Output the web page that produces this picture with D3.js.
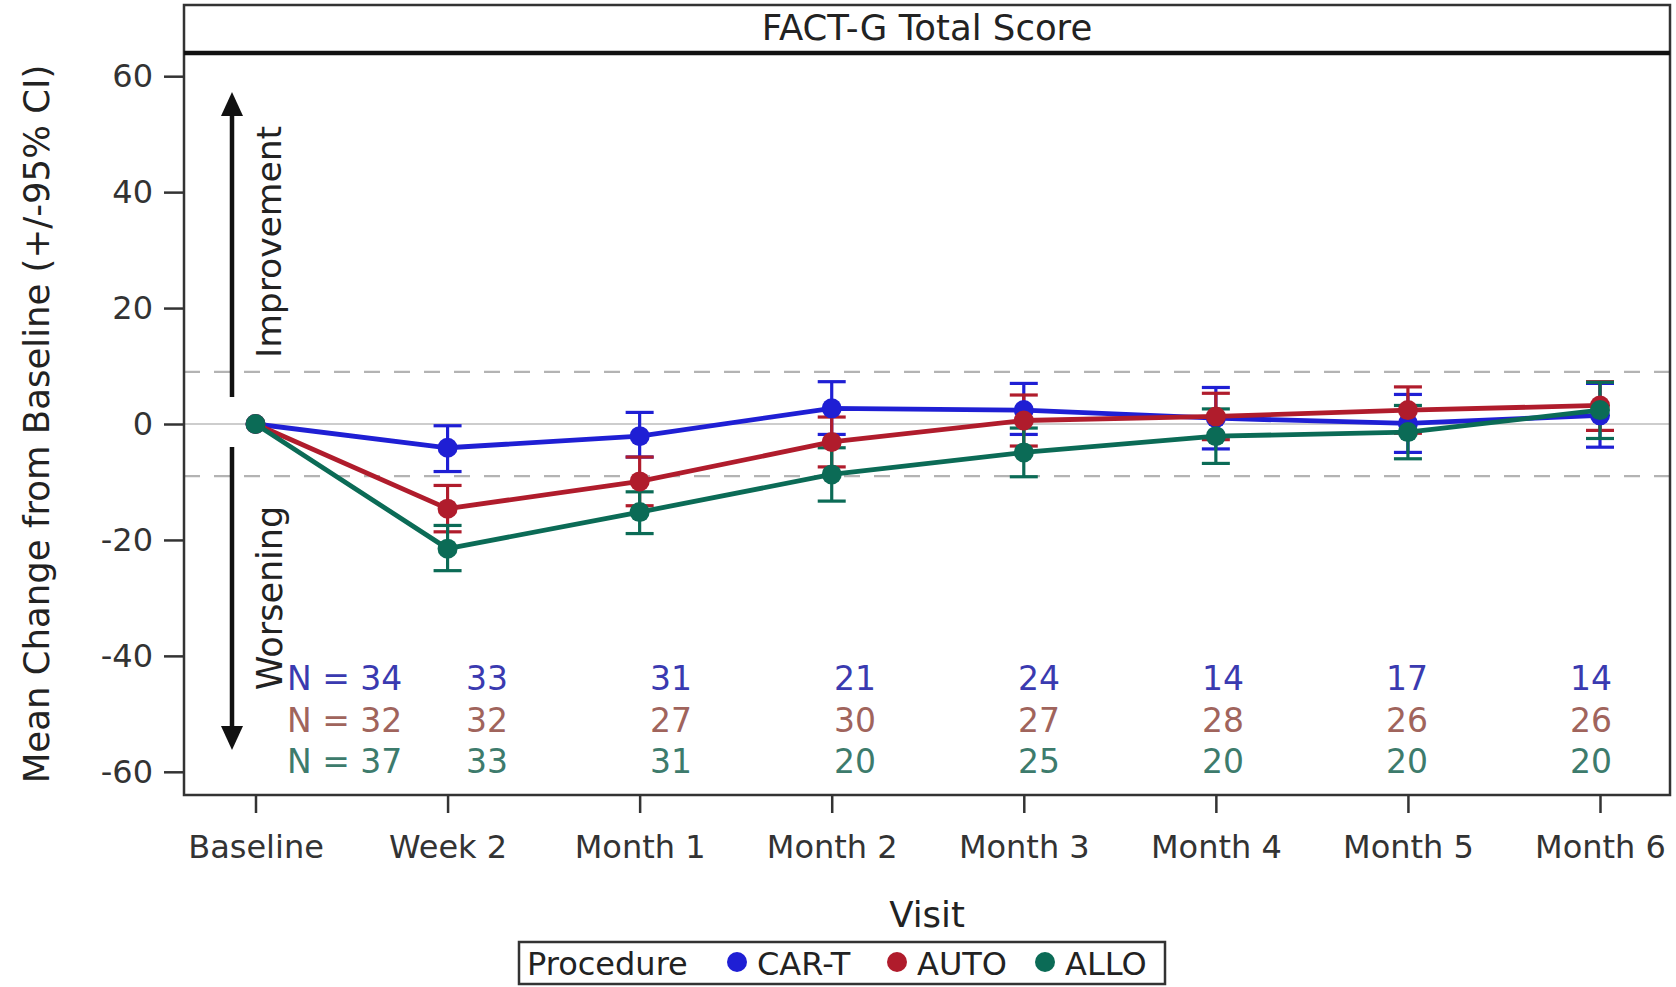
<!DOCTYPE html>
<html>
<head>
<meta charset="utf-8">
<script src="https://cdn.jsdelivr.net/npm/d3@7"></script>
<style>
  html, body { margin: 0; padding: 0; background: #fff; }
  svg { display: block; font-family: "DejaVu Sans", sans-serif; }
</style>
</head>
<body>
<svg id="chart" width="1676" height="987"></svg>
<script>
// ---------------- data ----------------
const visits = ["Baseline", "Week 2", "Month 1", "Month 2", "Month 3", "Month 4", "Month 5", "Month 6"];
const yTicks = [-60, -40, -20, 0, 20, 40, 60];
const refLines = [9, -9];

const seriesNames = ["CAR-T", "AUTO", "ALLO"];
const seriesColors = ["#1f1fd4", "#b01c2c", "#0b6b56"];
const nColors = ["#3a3ab0", "#a0645c", "#3d7b6c"];

const cartMean  = [0, -4.1, -2.1, 2.7, 2.4, 1.0, 0.1, 1.5];
const cartLower = [null, -8.2, -5.7, -1.8, -1.8, -4.3, -4.9, -4.0];
const cartUpper = [null, -0.3, 2.0, 7.3, 7.0, 6.3, 5.1, 7.0];

const autoMean  = [0, -14.6, -9.9, -3.1, 0.6, 1.3, 2.4, 3.2];
const autoLower = [null, -18.6, -14.1, -7.4, -3.8, -2.7, -1.6, -1.1];
const autoUpper = [null, -10.6, -5.7, 1.2, 5.0, 5.3, 6.4, 7.3];

const alloMean  = [0, -21.5, -15.2, -8.7, -4.9, -2.1, -1.4, 2.4];
const alloLower = [null, -25.3, -18.9, -13.3, -9.1, -6.8, -6.0, -2.5];
const alloUpper = [null, -17.5, -11.7, -4.1, -0.7, 2.6, 3.2, 7.2];

const nCart = [34, 33, 31, 21, 24, 14, 17, 14];
const nAuto = [32, 32, 27, 30, 27, 28, 26, 26];
const nAllo = [37, 33, 31, 20, 25, 20, 20, 20];

const titleText = "FACT-G Total Score";
const yTitle = "Mean Change from Baseline (+/-95% CI)";
const xTitle = "Visit";
const legendTitle = "Procedure";

// ---------------- build ----------------
const series = [
  { name: seriesNames[0], color: seriesColors[0], mean: cartMean, lo: cartLower, hi: cartUpper, n: nCart, ncolor: nColors[0] },
  { name: seriesNames[1], color: seriesColors[1], mean: autoMean, lo: autoLower, hi: autoUpper, n: nAuto, ncolor: nColors[1] },
  { name: seriesNames[2], color: seriesColors[2], mean: alloMean, lo: alloLower, hi: alloUpper, n: nAllo, ncolor: nColors[2] }
];

const svg = d3.select("#chart");
const L = 184, R = 1670, T = 53, B = 795, TT = 5;

const x = d3.scalePoint().domain(visits).range([255.5, 1600]);
const y = d3.scaleLinear().domain([-64, 64]).range([B, T]);
const nX = d3.scalePoint().domain(visits).range([303, 1591]);

svg.append("rect").attr("width", 1676).attr("height", 987).attr("fill", "#fff");

// reference lines
svg.append("line").attr("x1", L).attr("x2", R).attr("y1", y(0)).attr("y2", y(0))
  .attr("stroke", "#bdbdbd").attr("stroke-width", 1.6);
svg.selectAll(".ref").data(refLines).enter().append("line")
  .attr("x1", L).attr("x2", R).attr("y1", d => y(d)).attr("y2", d => y(d))
  .attr("stroke", "#b3b3b3").attr("stroke-width", 2.4).attr("stroke-dasharray", "16,14");

// arrows
const ax = 232;
svg.append("line").attr("x1", ax).attr("x2", ax).attr("y1", 397).attr("y2", 110)
  .attr("stroke", "#111").attr("stroke-width", 4.5);
svg.append("path").attr("d", `M${ax},92 L${ax - 11},116 L${ax + 11},116 Z`).attr("fill", "#111");
svg.append("line").attr("x1", ax).attr("x2", ax).attr("y1", 447).attr("y2", 732)
  .attr("stroke", "#111").attr("stroke-width", 4.5);
svg.append("path").attr("d", `M${ax},750 L${ax - 11},726 L${ax + 11},726 Z`).attr("fill", "#111");

svg.append("text").attr("transform", "translate(281,242) rotate(-90)")
  .attr("text-anchor", "middle").attr("font-size", 34.5).attr("fill", "#222").text("Improvement");
svg.append("text").attr("transform", "translate(282,598) rotate(-90)")
  .attr("text-anchor", "middle").attr("font-size", 35).attr("fill", "#222").text("Worsening");

// error bars
const capW = 14;
series.forEach(s => {
  const g = svg.append("g");
  const pts = visits.map((v, i) => ({ v, lo: s.lo[i], hi: s.hi[i] })).filter(d => d.lo !== null);
  g.selectAll(".eb").data(pts).enter().append("line")
    .attr("x1", d => x(d.v)).attr("x2", d => x(d.v))
    .attr("y1", d => y(d.lo)).attr("y2", d => y(d.hi))
    .attr("stroke", s.color).attr("stroke-width", 3.2);
  ["lo", "hi"].forEach(k => {
    g.selectAll(".cap" + k).data(pts).enter().append("line")
      .attr("x1", d => x(d.v) - capW).attr("x2", d => x(d.v) + capW)
      .attr("y1", d => y(d[k])).attr("y2", d => y(d[k]))
      .attr("stroke", s.color).attr("stroke-width", 3.2);
  });
});

// lines & markers
const line = d3.line().x(d => x(d.v)).y(d => y(d.m));
series.forEach(s => {
  const pts = visits.map((v, i) => ({ v, m: s.mean[i] }));
  svg.append("path").datum(pts).attr("d", line)
    .attr("fill", "none").attr("stroke", s.color).attr("stroke-width", 4.8).attr("stroke-linejoin", "round");
  svg.selectAll(null).data(pts).enter().append("circle")
    .attr("cx", d => x(d.v)).attr("cy", d => y(d.m)).attr("r", 10)
    .attr("fill", s.color);
});

// N table
const rowY = [690, 731.5, 773];
series.forEach((s, r) => {
  svg.selectAll(null).data(visits).enter().append("text")
    .attr("x", (d, i) => i === 0 ? nX(d) - 16 : nX(d))
    .attr("y", rowY[r])
    .attr("text-anchor", (d, i) => i === 0 ? "start" : "middle")
    .attr("font-size", 33).attr("fill", s.ncolor)
    .text((d, i) => i === 0 ? "N = " + s.n[i] : s.n[i]);
});

// frame & title box
svg.append("rect").attr("x", L).attr("y", TT).attr("width", R - L).attr("height", B - TT)
  .attr("fill", "none").attr("stroke", "#333").attr("stroke-width", 2.5);
svg.append("line").attr("x1", L).attr("x2", R).attr("y1", T).attr("y2", T)
  .attr("stroke", "#111").attr("stroke-width", 4.5);
svg.append("text").attr("x", (L + R) / 2).attr("y", 40).attr("text-anchor", "middle")
  .attr("font-size", 35.5).attr("fill", "#222").text(titleText);

// axes
const yAxis = svg.append("g").attr("transform", `translate(${L},0)`)
  .call(d3.axisLeft(y).tickValues(yTicks).tickSize(20).tickPadding(11).tickFormat(d => String(d)));
const xAxis = svg.append("g").attr("transform", `translate(0,${B})`)
  .call(d3.axisBottom(x).tickSize(18).tickPadding(22));
[yAxis, xAxis].forEach(a => {
  a.select(".domain").remove();
  a.selectAll(".tick line").attr("stroke", "#333").attr("stroke-width", 2.5);
  a.selectAll(".tick text").attr("font-size", 32).attr("fill", "#333").attr("font-family", "DejaVu Sans, sans-serif");
});

svg.append("text").attr("transform", `translate(49,${(T + B) / 2}) rotate(-90)`)
  .attr("text-anchor", "middle").attr("font-size", 35.5).attr("fill", "#222").text(yTitle);
svg.append("text").attr("x", (L + R) / 2).attr("y", 927).attr("text-anchor", "middle")
  .attr("font-size", 35.5).attr("fill", "#222").text(xTitle);

// legend
const lg = svg.append("g");
lg.append("rect").attr("x", 519).attr("y", 942).attr("width", 646).attr("height", 42)
  .attr("fill", "#fff").attr("stroke", "#333").attr("stroke-width", 2.5);
lg.append("text").attr("x", 527).attr("y", 975).attr("font-size", 32).attr("fill", "#222").text(legendTitle);
const legX = [737, 897, 1045];
series.forEach((s, i) => {
  lg.append("circle").attr("cx", legX[i]).attr("cy", 962).attr("r", 10).attr("fill", s.color);
  lg.append("text").attr("x", legX[i] + 20).attr("y", 975).attr("font-size", 32).attr("fill", "#222").text(s.name);
});
</script>
</body>
</html>
